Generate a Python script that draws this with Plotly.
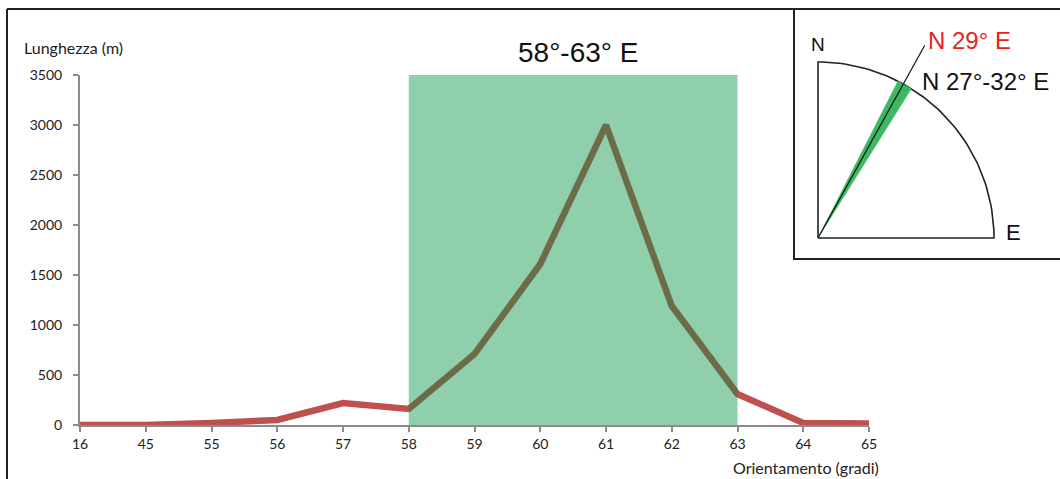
import numpy as np
import plotly.graph_objects as go

W, H = 1060, 479

# data
orientamento = ["16", "45", "55", "56", "57", "58", "59", "60", "61", "62", "63", "64", "65"]
lunghezza = [0, 0, 20, 50, 220, 160, 710, 1610, 3000, 1190, 310, 20, 15]
y_ticks = [0, 500, 1000, 1500, 2000, 2500, 3000, 3500]
banda = ["58", "63"]
banda_label = "58°-63° E"

# inset compass
direzione = 29
settore = [27, 32]
R = 176


def px(x):
    return x / W


def py(y):
    return 1 - y / H


fig = go.Figure()

fig.add_trace(go.Scatter(
    x=orientamento, y=lunghezza, mode="lines",
    line=dict(color="#c0504d", width=6.5),
    xaxis="x", yaxis="y", hoverinfo="skip"))

# inset: quarter circle N->E
th = np.radians(np.linspace(0, 90, 60))
qx = np.concatenate([[0], R * np.sin(th), [0]])
qy = np.concatenate([[0], R * np.cos(th), [0]])
fig.add_trace(go.Scatter(
    x=qx, y=qy, mode="lines", line=dict(color="#222222", width=1.6),
    xaxis="x2", yaxis="y2", hoverinfo="skip"))

# green sector
ts = np.radians(np.linspace(settore[0], settore[1], 10))
sx = np.concatenate([[0], R * np.sin(ts), [0]])
sy = np.concatenate([[0], R * np.cos(ts), [0]])
fig.add_trace(go.Scatter(
    x=sx, y=sy, mode="lines", fill="toself", fillcolor="#3cb862",
    line=dict(color="#3cb862", width=0.5),
    xaxis="x2", yaxis="y2", hoverinfo="skip"))

# direction line
L = 220
d = np.radians(direzione)
fig.add_trace(go.Scatter(
    x=[0, L * np.sin(d)], y=[0, L * np.cos(d)], mode="lines",
    line=dict(color="#111111", width=1.2),
    xaxis="x2", yaxis="y2", hoverinfo="skip"))

axis_grey = "#8c8c8c"
fig.update_layout(
    width=W, height=H,
    margin=dict(l=0, r=0, t=0, b=0, autoexpand=False),
    paper_bgcolor="white", plot_bgcolor="white",
    showlegend=False,
    font=dict(family="Lato", size=14, color="#222222"),
    xaxis=dict(
        type="category", domain=[px(80), px(869)], range=[0, 12],
        showgrid=False, showline=True, linecolor=axis_grey, linewidth=2,
        ticks="outside", ticklen=5, tickwidth=2, tickcolor=axis_grey,
        tickfont=dict(family="Lato", size=14, color="#222222"),
        anchor="y", zeroline=False),
    yaxis=dict(
        domain=[py(425), py(75)], range=[0, 3500],
        tickvals=y_ticks, showgrid=False, showline=True,
        linecolor=axis_grey, linewidth=2,
        ticks="outside", ticklen=5, tickwidth=2, tickcolor=axis_grey,
        ticklabelstandoff=8,
        tickfont=dict(family="Lato", size=14, color="#222222"),
        anchor="x", zeroline=False),
    xaxis2=dict(domain=[px(800), px(1050)], range=[-18, 232], visible=False,
                anchor="y2"),
    yaxis2=dict(domain=[py(250), py(30)], range=[-12, 208], visible=False,
                anchor="x2"),
)

shapes = [
    # highlighted band (semi-transparent overlay)
    dict(type="rect", xref="x", yref="y",
         x0=orientamento.index(banda[0]), x1=orientamento.index(banda[1]),
         y0=0, y1=3500, fillcolor="rgba(0,146,67,0.44)", line=dict(width=0),
         layer="above"),
    # outer frame
    dict(type="line", xref="paper", yref="paper", x0=px(7), x1=px(7),
         y0=py(9), y1=0, line=dict(color="#222222", width=2)),
    dict(type="line", xref="paper", yref="paper", x0=px(7), x1=1,
         y0=py(9), y1=py(9), line=dict(color="#222222", width=2)),
    # inset box
    dict(type="rect", xref="paper", yref="paper", x0=px(794), x1=px(1065),
         y0=py(259), y1=py(9), line=dict(color="#222222", width=2)),
]
fig.update_layout(shapes=shapes)

arial = "Liberation Sans"
annotations = [
    dict(text="Lunghezza (m)", x=px(22), y=py(48), xanchor="left",
         yanchor="middle", font=dict(family="Lato", size=16, color="#222222")),
    dict(text="Orientamento (gradi)", x=px(881), y=py(467), xanchor="right",
         yanchor="middle", font=dict(family="Lato", size=16, color="#222222")),
    dict(text=banda_label, x=px(578), y=py(52), xanchor="center",
         yanchor="middle", font=dict(family=arial, size=28, color="#111111")),
    dict(text="N", x=px(818), y=py(44), xanchor="center", yanchor="middle",
         font=dict(family=arial, size=19, color="#111111")),
    dict(text="E", x=px(1004), y=py(232), xanchor="left", yanchor="middle",
         font=dict(family=arial, size=22, color="#111111")),
    dict(text="N %d° E" % direzione, x=px(926), y=py(40), xanchor="left",
         yanchor="middle", font=dict(family=arial, size=24, color="#e8231f")),
    dict(text="N %d°-%d° E" % (settore[0], settore[1]), x=px(920), y=py(82),
         xanchor="left", yanchor="middle",
         font=dict(family=arial, size=24, color="#111111")),
]
for a in annotations:
    a.update(xref="paper", yref="paper", showarrow=False)
fig.update_layout(annotations=annotations)

fig.write_html("out.html", config={"displayModeBar": False},
               post_script="document.body.style.margin='0';")
